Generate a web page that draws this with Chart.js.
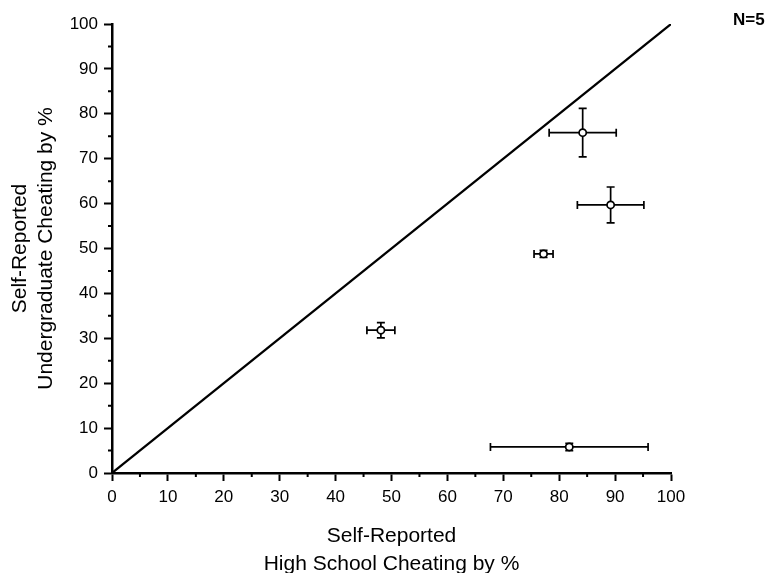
<!DOCTYPE html>
<html>
<head>
<meta charset="utf-8">
<title>Self-Reported Cheating</title>
<script src="https://cdn.jsdelivr.net/npm/chart.js@4.4.1/dist/chart.umd.min.js"></script>
<style>
    html, body { margin: 0; padding: 0; background: #fff; }
    #wrap { width: 776px; height: 573px; }
</style>
</head>
<body>
<div id="wrap"><canvas id="cheatChart" width="776" height="573"></canvas></div>
<script>
// group means (%) and their error half-widths
const hsCheating = [84.2, 89.2, 77.2, 48.1, 81.8];
const ugCheating = [75.8, 59.7, 48.8, 31.8, 5.8];
const hsError = [6.0, 5.95, 1.7, 2.5, 14.1];
const ugError = [5.4, 4.0, 0.8, 1.7, 0.8];
const diagonal = [0, 100];
const axisMin = 0;
const axisMax = 100;
const sampleNote = "N=5";

const FONT = "'Liberation Sans', Arial, Helvetica, sans-serif";

document.addEventListener("DOMContentLoaded", function() {
    const ctx = document.getElementById("cheatChart").getContext("2d");

    // error bars, drawn under the open circles
    const errorBars = {
        id: "errorBars",
        beforeDatasetsDraw(chart) {
            const xs = chart.scales.x;
            const ys = chart.scales.y;
            const c = chart.ctx;
            c.save();
            c.strokeStyle = "#000";
            c.lineWidth = 1.7;
            hsCheating.forEach(function(hx, i) {
                const px = xs.getPixelForValue(hx);
                const py = ys.getPixelForValue(ugCheating[i]);
                const xl = xs.getPixelForValue(hx - hsError[i]);
                const xr = xs.getPixelForValue(hx + hsError[i]);
                const yt = ys.getPixelForValue(ugCheating[i] + ugError[i]);
                const yb = ys.getPixelForValue(ugCheating[i] - ugError[i]);
                const cap = 4;
                c.beginPath();
                c.moveTo(xl, py); c.lineTo(xr, py);
                c.moveTo(xl, py - cap); c.lineTo(xl, py + cap);
                c.moveTo(xr, py - cap); c.lineTo(xr, py + cap);
                c.moveTo(px, yt); c.lineTo(px, yb);
                c.moveTo(px - cap, yt); c.lineTo(px + cap, yt);
                c.moveTo(px - cap, yb); c.lineTo(px + cap, yb);
                c.stroke();
            });
            c.restore();
        }
    };

    // short minor ticks at the odd fives, plus the N label
    const extras = {
        id: "extras",
        afterDraw(chart) {
            const xs = chart.scales.x;
            const ys = chart.scales.y;
            const c = chart.ctx;
            const area = chart.chartArea;
            c.save();
            c.strokeStyle = "#000";
            c.lineWidth = 2;
            c.beginPath();
            for (let v = axisMin + 5; v < axisMax; v += 10) {
                const px = xs.getPixelForValue(v);
                c.moveTo(px, area.bottom);
                c.lineTo(px, area.bottom + 4);
                const py = ys.getPixelForValue(v);
                c.moveTo(area.left, py);
                c.lineTo(area.left - 4, py);
            }
            c.stroke();
            c.fillStyle = "#000";
            c.font = "bold 17px " + FONT;
            c.textBaseline = "middle";
            c.textAlign = "left";
            c.fillText(sampleNote, 733, 20);
            c.restore();
        }
    };

    const tickOpts = {
        stepSize: 10,
        autoSkip: false,
        maxRotation: 0,
        color: "#000",
        font: { family: FONT, size: 17 },
        padding: 6
    };

    const gridOpts = {
        display: true,
        drawOnChartArea: false,
        drawTicks: true,
        tickLength: 8,
        tickColor: "#000",
        tickWidth: 2
    };

    new Chart(ctx, {
        type: "scatter",
        data: {
            datasets: [{
                label: "Students",
                data: hsCheating.map(function(v, i) { return { x: v, y: ugCheating[i] }; }),
                pointRadius: 3.6,
                pointBackgroundColor: "#fff",
                pointBorderColor: "#000",
                pointBorderWidth: 1.7,
                order: 1
            }, {
                label: "Equal",
                data: diagonal.map(function(v) { return { x: v, y: v }; }),
                showLine: true,
                borderColor: "#000",
                borderWidth: 2.2,
                pointRadius: 0,
                order: 2
            }]
        },
        options: {
            responsive: false,
            animation: false,
            layout: { padding: { top: 24, right: 105, bottom: 0, left: 0 } },
            plugins: {
                legend: { display: false },
                tooltip: { enabled: false }
            },
            scales: {
                x: {
                    type: "linear",
                    min: axisMin,
                    max: axisMax,
                    ticks: tickOpts,
                    grid: gridOpts,
                    border: { display: true, color: "#000", width: 2.5 },
                    title: {
                        display: true,
                        text: ["Self-Reported", "High School Cheating by %"],
                        color: "#000",
                        font: { family: FONT, size: 21, lineHeight: 1.333 },
                        padding: { top: 0, bottom: -5 }
                    },
                    afterFit: function(scale) { scale.height = 100; }
                },
                y: {
                    type: "linear",
                    min: axisMin,
                    max: axisMax,
                    ticks: tickOpts,
                    grid: gridOpts,
                    border: { display: true, color: "#000", width: 2.5 },
                    title: {
                        display: true,
                        text: ["Self-Reported", "Undergraduate Cheating by %"],
                        color: "#000",
                        font: { family: FONT, size: 21, lineHeight: 1.2 },
                        padding: { top: 8, bottom: 0 }
                    },
                    afterFit: function(scale) { scale.width = 112; }
                }
            }
        },
        plugins: [errorBars, extras]
    });
});
</script>
</body>
</html>
